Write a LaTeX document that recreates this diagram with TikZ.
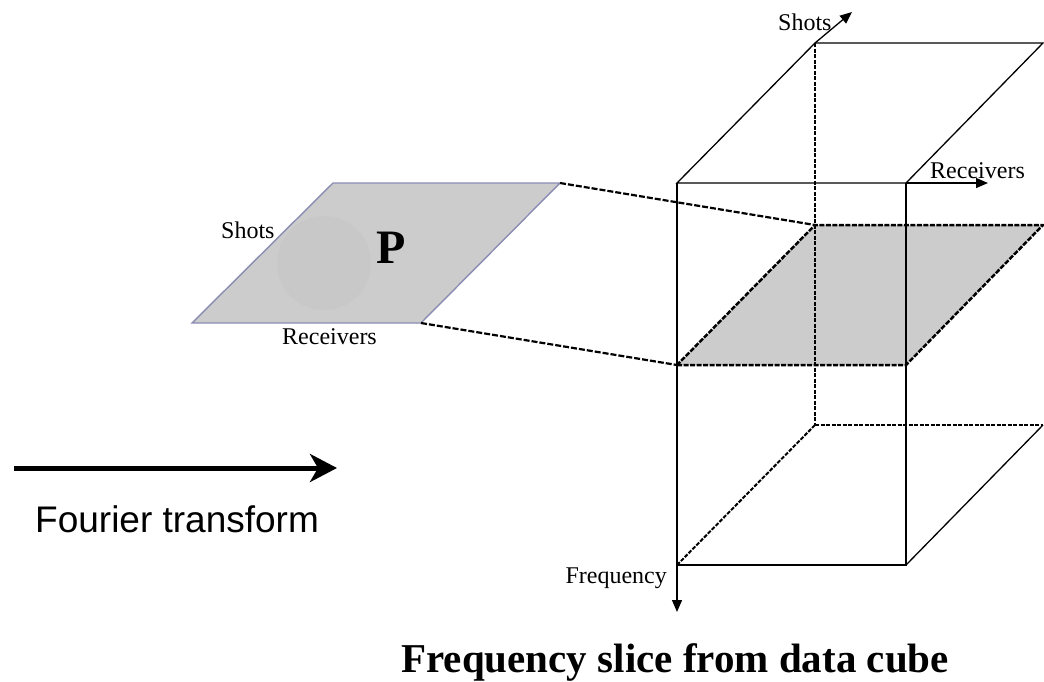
\documentclass[tikz,border=0pt]{standalone}
\usepackage{fontspec}
\setmainfont{Liberation Serif}
\newfontfamily\sansf{Liberation Sans}
\usetikzlibrary{arrows.meta}
\definecolor{slicegray}{HTML}{CCCCCC}
\definecolor{blobgray}{HTML}{C8C8C8}
\definecolor{rimblue}{HTML}{8A8CB4}
\begin{document}
\begin{tikzpicture}[x=1pt,y=-1pt,
  edge/.style={line width=1.3pt, black},
  hidden/.style={line width=2pt, dash pattern=on 4pt off 1.5pt},
  link/.style={line width=2.2pt, dash pattern=on 6pt off 2pt},
  slicebox/.style={fill=slicegray, draw=black, line width=2.5pt, dash pattern=on 5pt off 1.5pt, line join=round},
  lbl/.style={font=\fontsize{24}{28}\selectfont, inner sep=0pt},
  axis/.style={line width=1.3pt, -{Triangle[length=12pt,width=10pt]}}]
\useasboundingbox[fill=white] (0,0) rectangle (1044,681);

% left plane
\coordinate (L1) at (333,183);
\coordinate (L2) at (560,183);
\coordinate (L3) at (421,323);
\coordinate (L4) at (192,323);
\filldraw[fill=slicegray, draw=rimblue, line width=1.4pt] (L1) -- (L2) -- (L3) -- (L4) -- cycle;
\node[circle, fill=blobgray, minimum size=94pt, inner sep=0pt] (blob) at (324,263) {};
\node[anchor=base west, inner sep=0pt, font=\fontsize{48}{52}\selectfont\bfseries] (P) at (376,263) {P};
\node[lbl, anchor=base west] (shotsL) at (221,238) {Shots};
\node[lbl, anchor=base west] (recvL) at (282,344) {Receivers};

% cube corners
\coordinate (F1) at (677,183);
\coordinate (F2) at (906,183);
\coordinate (F3) at (906,565);
\coordinate (F4) at (677,565);
\coordinate (B1) at (815,43);
\coordinate (B2) at (1043,43);
\coordinate (B3) at (1043,425);
\coordinate (B4) at (815,425);
% slice
\coordinate (S1) at (677,365);
\coordinate (S2) at (906,365);
\coordinate (S3) at (1043,225);
\coordinate (S4) at (815,225);

% links
\draw[link] (L2) -- (S4);
\draw[link] (L3) -- (S1);

% slice
\filldraw[slicebox] (S1) -- (S2) -- (S3) -- (S4) -- cycle;

% hidden edges
\draw[hidden] (B1) -- (B4);
\draw[hidden] (B4) -- (B3);
\draw[hidden] (F4) -- (B4);

% visible edges
\draw[edge] (F1) -- (F2) -- (B2) -- (B1) -- cycle;
\draw[edge] (F1) -- (F4) -- (F3) -- (F2);
\draw[edge] (F3) -- (B3);

% axes
\coordinate (shotsTip) at (852,12);
\coordinate (recvTip) at (988,183);
\coordinate (freqTip) at (677,612);
\draw[axis] (B1) -- (shotsTip);
\draw[axis] (F2) -- (recvTip);
\draw[axis] (F4) -- (freqTip);
\node[lbl, anchor=base west] (shotsC) at (778,30) {Shots};
\node[lbl, anchor=base west] (recvC) at (930,178) {Receivers};
\node[lbl, anchor=base east] (freqC) at (667,583) {Frequency};

% Fourier transform arrow
\coordinate (ft0) at (14,468);
\coordinate (ft1) at (337,468);
\draw[line width=5pt, -{Stealth[length=27pt,width=28pt,inset=8pt]}] (ft0) -- (ft1);
\node[anchor=base west, inner sep=0pt, font=\sansf\fontsize{37}{44}\selectfont] (ftlabel) at (35,532) {Fourier transform};

% title
\node[anchor=base east, inner sep=0pt, font=\fontsize{41}{48}\selectfont\bfseries] (title) at (949,672) {Frequency slice from data cube};
\end{tikzpicture}
\end{document}
